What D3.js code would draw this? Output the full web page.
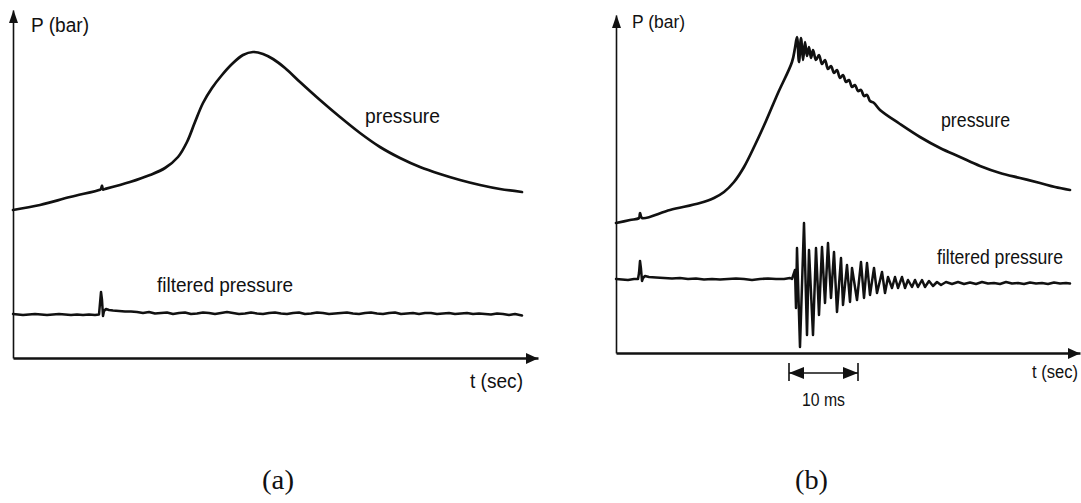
<!DOCTYPE html>
<html><head><meta charset="utf-8">
<script src="https://cdn.jsdelivr.net/npm/d3@7"></script>
<style>html,body{margin:0;padding:0;background:#fff;} svg{display:block;}</style>
</head><body><svg id="chart" width="1081" height="503"></svg>
<script>
// ---------- DATA (time units, pressure units: arbitrary) ----------
const panelLabels = ["(a)", "(b)"];
const axisLabelsY = ["P (bar)", "P (bar)"];
const axisLabelsX = ["t (sec)", "t (sec)"];
const seriesNames = ["pressure", "filtered pressure"];

// Panel (a): raw pressure
const pressureA = [[0,148],[27,153],[57,161],[87,168.3],[88,169],[89,172.5],[90,168.5],[92,169],[117,176],[137,183],[152,190],[165,201],[174,216],[182,236],[190,255],[199,270],[209,283],[219,294],[230,303],[240,306],[250,304],[260,299],[272,290],[287,276],[307,258],[327,241],[347,225],[367,211],[387,200],[407,191],[427,184],[447,178],[467,173],[487,169],[509,166]];

// Panel (a): filtered pressure
const filteredA = [[0,44],[5,43.5],[10,43],[16,43.5],[22,44],[28,43.5],[34,43],[40,43.5],[46,44],[52,43.5],[58,43],[64,43.5],[70,43],[76,43.5],[82,43],[86,43.5],[88,66],[89,58],[90,42],[91,47],[93,49],[96,48],[100,47.5],[106,47],[112,46.5],[118,46.5],[124,46],[130,45],[136,46],[142,44.5],[148,45],[154,45.5],[160,44],[166,45],[172,45.5],[178,44],[184,44.5],[190,45.5],[196,45],[202,44],[208,45],[214,46],[220,45],[226,44],[232,44.5],[238,45.5],[244,44.5],[250,44],[256,45],[262,45.5],[268,44.5],[274,44],[280,45],[286,45.5],[292,44],[298,44.5],[304,45.5],[310,45],[316,44],[322,44.5],[328,45],[334,45.5],[340,44.5],[346,44],[352,45],[358,45.5],[364,44.5],[370,44],[376,45],[382,45.5],[388,44],[394,44.5],[400,45],[406,44],[412,45],[418,45],[424,44],[430,44.5],[436,45],[442,44],[448,44.5],[454,45],[460,44],[466,44.5],[472,44],[478,43.5],[484,44.5],[490,44],[496,43],[502,44],[509,42.5]];

// Panel (b): raw pressure
const pressureB = [[0,130],[14,133],[23,135],[24,140],[26,135],[54,143],[84,150],[98,155],[108,161],[118,171],[128,186],[139,208],[150,232],[162,260],[176,291],[179,305],[181,316],[183,291],[185,315],[187,293],[189,311],[191,297],[193,306],[195,295],[197,303],[200,293],[203,298],[206,289],[209,293],[212,284],[215,287],[218,280],[221,283],[224,275],[227,278],[230,271],[233,273],[236,266],[239,268],[242,262],[245,263],[248,257],[251,258],[254,252],[258,250],[264,243],[284,229],[304,216],[324,205],[344,196],[364,187],[384,180],[404,175],[424,170],[439,166],[454,163]];

// Panel (b): filtered pressure
const filteredB = [[0,74],[6,73.5],[12,73],[18,74],[22,74],[23,80],[24,92],[25,84],[26,72],[27,75],[29,77],[33,76],[40,75.5],[48,75],[56,74.5],[64,75],[72,74],[80,74.5],[88,73.5],[96,74],[104,73.5],[112,74],[120,74.5],[128,74],[136,73],[144,74],[152,74.5],[160,74],[168,74],[174,75],[176,74],[179,83],[180,45],[181,105],[184,6],[188,130],[191,18],[193,103],[197,18],[200,105],[203,38],[206,106],[209,50],[212,110],[215,55],[218,101],[221,41],[225,95],[227,48],[231,88],[234,51],[236,85],[241,53],[245,91],[248,55],[251,90],[254,58],[258,85],[261,60],[266,81],[269,60],[272,76],[276,65],[279,76],[282,65],[286,76],[289,65],[292,73],[296,66],[299,73],[302,66],[306,73],[309,66],[313,72],[317,67],[321,71],[325,68],[330,71],[336,69],[342,71],[348,69],[354,70.5],[360,69],[366,71],[372,69.5],[378,70],[384,69],[390,71],[396,69.5],[402,70],[408,69],[414,70.5],[420,69.5],[426,70],[432,69],[438,70.5],[444,69.5],[450,70],[454,69.5]];

// Panel (b): time-span annotation (start, end) and its label
const spanB = [173, 242];
const spanLabel = "10 ms";

// ---------- DRAWING ----------
const svg = d3.select("#chart");
svg.append("rect").attr("width",1081).attr("height",503).attr("fill","#fff");
const SANS = "'Liberation Sans', Arial, Helvetica, sans-serif";
const SERIF = "'Liberation Serif', 'Times New Roman', serif";

function text(g, str, x, y, size, len, family) {
  const t = g.append("text").attr("x", x).attr("y", y)
    .attr("font-family", family || SANS).attr("font-size", size)
    .attr("fill", "#111").text(str);
  if (len) t.attr("textLength", len).attr("lengthAdjust", "spacingAndGlyphs");
  return t;
}

function drawPanel(cfg) {
  const g = svg.append("g");
  const x = d3.scaleLinear().domain(cfg.xDomain).range(cfg.xRange);
  const y = d3.scaleLinear().domain(cfg.yDomain).range(cfg.yRange);

  const gx = g.append("g").attr("transform", `translate(0,${cfg.yRange[0]})`)
    .call(d3.axisBottom(x).ticks(0).tickSizeOuter(0));
  gx.select(".domain").attr("stroke", "#111").attr("stroke-width", 2.6);
  const gy = g.append("g").attr("transform", `translate(${cfg.xRange[0]},0)`)
    .call(d3.axisLeft(y).ticks(0).tickSizeOuter(0));
  gy.select(".domain").attr("stroke", "#111").attr("stroke-width", 1.6);

  const x0 = x.range()[0] + 0.5, xe = x.range()[1], y0 = y.range()[0] + 0.5, ye = y.range()[1];
  g.append("path").attr("d", `M${xe},${y0}L${xe-12},${y0-5.5}L${xe-12},${y0+5.5}Z`).attr("fill", "#111");
  g.append("path").attr("d", `M${x0},${ye}L${x0-4.5},${ye+13}L${x0+4.5},${ye+13}Z`).attr("fill", "#111");

  const smooth = d3.line().x(d => x(d[0])).y(d => y(d[1])).curve(d3.curveCatmullRom.alpha(0.5));
  const sharp = d3.line().x(d => x(d[0])).y(d => y(d[1]));

  g.append("path").datum(cfg.pressure).attr("d", smooth)
    .attr("fill", "none").attr("stroke", "#111").attr("stroke-width", 2.7)
    .attr("stroke-linejoin", "round").attr("stroke-linecap", "round");
  g.append("path").datum(cfg.filtered).attr("d", sharp)
    .attr("fill", "none").attr("stroke", "#111").attr("stroke-width", 2.5)
    .attr("stroke-linejoin", "round").attr("stroke-linecap", "round");

  cfg.texts.forEach(t => text(g, t.s, t.x, t.y, t.size, t.len, t.family));
  return { g, x, y };
}

drawPanel({
  xDomain: [0, 525], xRange: [13, 538],
  yDomain: [0, 348], yRange: [358, 10],
  pressure: pressureA, filtered: filteredA,
  texts: [
    { s: axisLabelsY[0], x: 31, y: 32, size: 19.5, len: 58 },
    { s: seriesNames[0], x: 365, y: 123, size: 21, len: 75 },
    { s: seriesNames[1], x: 157, y: 292, size: 21, len: 136 },
    { s: axisLabelsX[0], x: 470, y: 388, size: 20, len: 53 },
    { s: panelLabels[0], x: 262, y: 489, size: 27, len: 32, family: SERIF }
  ]
});

const pb = drawPanel({
  xDomain: [0, 464], xRange: [616, 1080],
  yDomain: [0, 338], yRange: [353, 15],
  pressure: pressureB, filtered: filteredB,
  texts: [
    { s: axisLabelsY[1], x: 632, y: 28, size: 17.5, len: 53 },
    { s: seriesNames[0], x: 941, y: 127, size: 19.5, len: 69 },
    { s: seriesNames[1], x: 937, y: 264, size: 19.5, len: 126 },
    { s: axisLabelsX[1], x: 1032, y: 378, size: 18, len: 46 },
    { s: panelLabels[1], x: 795, y: 489, size: 27, len: 33, family: SERIF }
  ]
});

// 10 ms span annotation
(function () {
  const g = pb.g, x = pb.x;
  const xa = x(spanB[0]), xb = x(spanB[1]), ym = 373;
  g.append("line").attr("x1", xa).attr("x2", xb).attr("y1", ym).attr("y2", ym)
    .attr("stroke", "#111").attr("stroke-width", 1.6);
  [xa, xb].forEach(v => g.append("line").attr("x1", v).attr("x2", v).attr("y1", ym - 10).attr("y2", ym + 8)
    .attr("stroke", "#111").attr("stroke-width", 1.6));
  g.append("path").attr("d", `M${xa},${ym}L${xa+15},${ym-6}L${xa+15},${ym+6}Z`).attr("fill", "#111");
  g.append("path").attr("d", `M${xb},${ym}L${xb-15},${ym-6}L${xb-15},${ym+6}Z`).attr("fill", "#111");
  text(g, spanLabel, xa + 13, 406, 19, 43);
})();
</script>
</body></html>
